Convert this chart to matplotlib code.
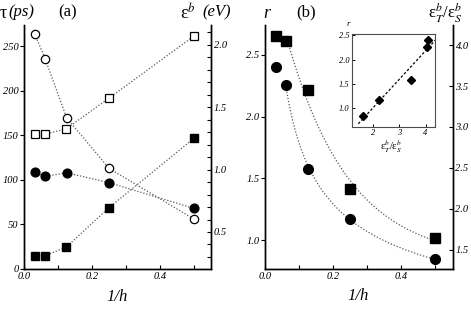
import numpy as np
import matplotlib
matplotlib.use("Agg")
import matplotlib.pyplot as plt
from matplotlib.ticker import MultipleLocator

# ---------------- data ----------------
inv_h = [1/32, 1/16, 1/8, 1/4, 1/2]

# panel (a)
tau_open = [264, 236, 170, 113, 56]        # open circles, tau (ps)
tau_filled = [109, 104, 108, 97, 68]       # filled circles, tau (ps)
eb_open = [1.284, 1.284, 1.329, 1.573, 2.072]   # open squares, eps^b (eV)
eb_filled = [0.308, 0.310, 0.380, 0.695, 1.252] # filled squares, eps^b (eV)

# panel (b)
r_vals = [2.405, 2.257, 1.575, 1.17, 0.846]      # filled circles, r
ratio_vals = [4.11, 4.05, 3.45, 2.24, 1.645]     # filled squares, eps_T^b/eps_S^b

# tick labels
xticks = [0.0, 0.2, 0.4]
xticklabels = ["0.0", "0.2", "0.4"]
tau_ticks = [0, 50, 100, 150, 200, 250]
tau_ticklabels = ["0", "50", "100", "150", "200", "250"]
eb_ticks = [0.5, 1.0, 1.5, 2.0]
eb_ticklabels = ["0.5", "1.0", "1.5", "2.0"]
r_ticks = [1.0, 1.5, 2.0, 2.5]
r_ticklabels = ["1.0", "1.5", "2.0", "2.5"]
ratio_ticks = [1.5, 2.0, 2.5, 3.0, 3.5, 4.0]
ratio_ticklabels = ["1.5", "2.0", "2.5", "3.0", "3.5", "4.0"]
in_xticks = [2, 3, 4]
in_xticklabels = ["2", "3", "4"]
in_yticks = [1.0, 1.5, 2.0, 2.5]
in_yticklabels = ["1.0", "1.5", "2.0", "2.5"]

# ---------------- style ----------------
plt.rcParams['font.family'] = ['Liberation Serif', 'DejaVu Serif']
plt.rcParams['mathtext.fontset'] = 'stix'
plt.rcParams['axes.linewidth'] = 1.0

W, H = 471, 313
fig = plt.figure(figsize=(W/100, H/100), dpi=100)

def fx(px):
    return px / W

def fy(py):
    return 1 - py / H

dot = dict(ls=(0, (1, 1.5)), lw=0.9, color='0.35', zorder=1)
tickfont = dict(fontstyle='italic', fontsize=7.5)

# ---------------- panel (a) ----------------
ax1 = fig.add_axes([fx(24), fy(269), fx(187), 244/H])
ax1r = ax1.twinx()
x = np.array(inv_h)

ax1.plot(x, tau_open, **dot)
ax1.plot(x, tau_filled, **dot)
ax1r.plot(x, eb_open, **dot)
ax1r.plot(x, eb_filled, **dot)
ax1.plot(x, tau_open, 'o', ms=6, mfc='white', mec='black', mew=0.9, ls='none', zorder=3)
ax1.plot(x, tau_filled, 'o', ms=6.3, mfc='black', mec='black', ls='none', zorder=3)
ax1r.plot(x, eb_open, 's', ms=5.8, mfc='white', mec='black', mew=0.9, ls='none', zorder=3)
ax1r.plot(x, eb_filled, 's', ms=5.8, mfc='black', mec='black', ls='none', zorder=3)

ax1.set_xlim(0, 0.55)
ax1.set_ylim(0, 274)
ax1r.set_ylim(0.203, 2.16)
ax1.set_xticks(xticks, labels=xticklabels, **tickfont)
ax1.xaxis.set_minor_locator(MultipleLocator(0.1))
ax1.set_yticks(tau_ticks, labels=tau_ticklabels, **tickfont)
ax1r.set_yticks(eb_ticks, labels=eb_ticklabels, **tickfont)
ax1r.yaxis.set_minor_locator(MultipleLocator(0.1))
ax1.tick_params(axis='x', which='both', direction='in', length=3, width=0.8, pad=2)
ax1.tick_params(axis='y', direction='out', length=3, width=0.8, pad=1)
ax1r.tick_params(axis='y', which='both', direction='in', length=3, width=0.8, pad=2)
ax1.spines['top'].set_visible(False)
ax1r.spines['top'].set_visible(False)

# ---------------- panel (b) ----------------
ax2 = fig.add_axes([fx(265), fy(269), fx(187.7), 244/H])
ax2r = ax2.twinx()

xs = x[1:]
xx = np.linspace(xs[0], xs[-1], 200)

# power-law fit of r vs 1/h (points 2..5)
pr = np.polyfit(np.log(xs), np.log(np.array(r_vals[1:])), 1)
r_curve = np.exp(np.polyval(pr, np.log(xx)))
ax2.plot(xx, r_curve, **dot)

# exponential fit of ratio vs 1/h (points 2..5)
ys = np.array(ratio_vals[1:])
best = None
for t in np.linspace(0.03, 2.0, 800):
    A = np.vstack([np.exp(-xs / t), np.ones_like(xs)]).T
    coef = np.linalg.lstsq(A, ys, rcond=None)[0]
    err = np.sum((A @ coef - ys) ** 2)
    if best is None or err < best[0]:
        best = (err, t, coef)
_, tb, cb = best
ax2r.plot(xx, cb[0] * np.exp(-xx / tb) + cb[1], **dot)

ax2.plot(x, r_vals, 'o', ms=7, mfc='black', mec='black', ls='none', zorder=3)
ax2r.plot(x, ratio_vals, 's', ms=6.5, mfc='black', mec='black', ls='none', zorder=3)

ax2.set_xlim(0, 0.552)
ax2.set_ylim(0.765, 2.743)
ax2r.set_ylim(1.268, 4.244)
ax2.set_xticks(xticks, labels=xticklabels, **tickfont)
ax2.xaxis.set_minor_locator(MultipleLocator(0.1))
ax2.set_yticks(r_ticks, labels=r_ticklabels, **tickfont)
ax2r.set_yticks(ratio_ticks, labels=ratio_ticklabels, **tickfont)
ax2.tick_params(axis='x', which='both', direction='in', length=3, width=0.8, pad=2)
ax2.tick_params(axis='y', direction='out', length=3, width=0.8, pad=1)
ax2r.tick_params(axis='y', which='both', direction='in', length=3, width=0.8, pad=2)
ax2.spines['top'].set_visible(False)
ax2r.spines['top'].set_visible(False)

# ---------------- inset ----------------
axin = fig.add_axes([fx(351.7), fy(127), fx(83.3), 93/H])
axin.set_zorder(5)
pl = np.polyfit(ratio_vals, r_vals, 1)
lx = np.array([1.45, 4.4])
axin.plot(lx, np.polyval(pl, lx), ls=(0, (2, 1.6)), lw=0.9, color='black')
axin.plot(ratio_vals, r_vals, 'D', ms=4.2, mfc='black', mec='black', ls='none')
axin.set_xlim(1.2, 4.36)
axin.set_ylim(0.61, 2.53)
axin.set_xticks(in_xticks, labels=in_xticklabels, fontstyle='italic', fontsize=6)
axin.set_yticks(in_yticks, labels=in_yticklabels, fontstyle='italic', fontsize=6)
axin.tick_params(direction='in', length=2.5, width=0.7, pad=1.5)
for s in axin.spines.values():
    s.set_linewidth(0.8)
    s.set_color('0.3')

# ---------------- texts ----------------
fig.text(fx(0), fy(13), "τ", fontsize=13, va='center', ha='left')
fig.text(fx(8), fy(12), "(ps)", fontsize=12, fontstyle='italic', va='center', ha='left')
fig.text(fx(58), fy(12), "(a)", fontsize=12, va='center', ha='left')
fig.text(fx(180), fy(13), "ε$^b$", fontsize=13, va='center', ha='left')
fig.text(fx(202), fy(12), "(eV)", fontsize=12, fontstyle='italic', va='center', ha='left')
fig.text(fx(117), fy(297), "1/h", fontsize=12, fontstyle='italic', va='center', ha='center')

fig.text(fx(263), fy(13), "r", fontsize=13, fontstyle='italic', va='center', ha='left')
fig.text(fx(296), fy(12), "(b)", fontsize=12, va='center', ha='left')
fig.text(fx(428), fy(13), "ε$_T^{b}$/ε$_S^{b}$", fontsize=12, va='center', ha='left')
fig.text(fx(358), fy(296), "1/h", fontsize=12, fontstyle='italic', va='center', ha='center')

fig.text(fx(347), fy(24), "r", fontsize=6.5, fontstyle='italic', va='center', ha='left')
fig.text(fx(391), fy(147), "ε$_T^{b}$/ε$_S^{b}$", fontsize=7.5, va='center', ha='center')

fig.savefig("out.png", dpi=100)
